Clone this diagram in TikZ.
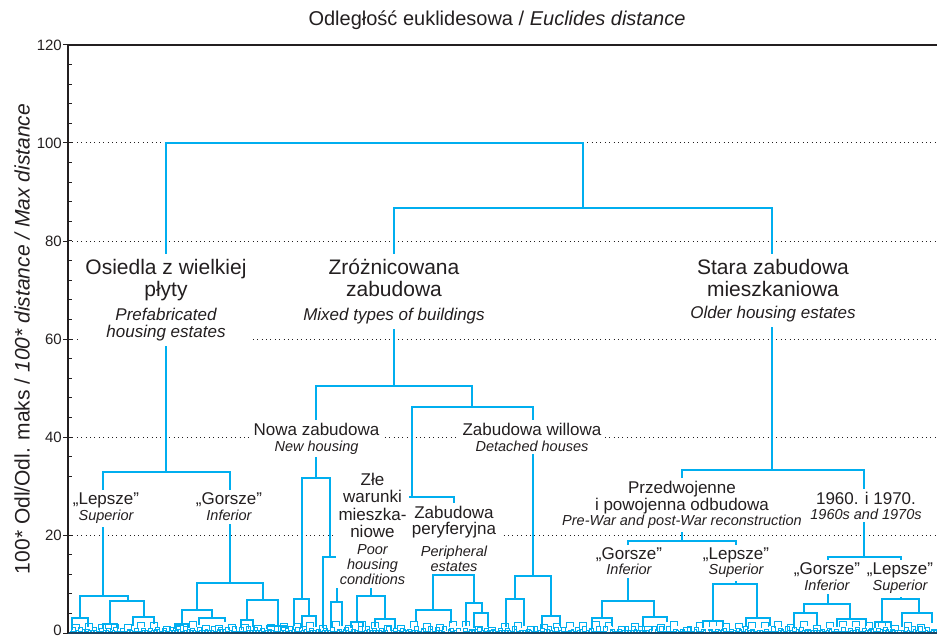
\documentclass[tikz,border=0pt]{standalone}
\usepackage{fontspec}
\setmainfont{Liberation Sans}
\usepackage{tikz}
\usetikzlibrary{calc}
\definecolor{ink}{RGB}{35,31,32}
\definecolor{dendro}{RGB}{0,174,239}
\definecolor{floor}{RGB}{24,70,102}
\newcommand{\clu}[5]{\draw[branch] (#1,#4) -- (#1,#3) -- (#2,#3) -- (#2,#5);}
\newcommand{\eng}[1]{{\fontsize{17}{17}\selectfont\itshape #1}}
\newcommand{\engs}[1]{{\fontsize{14.5}{15}\selectfont\itshape #1}}
\newcommand{\vy}[1]{633-4.9*#1}
\tikzset{
  branch/.style={draw=dendro,line width=1.3pt},
  leaf/.style={draw=dendro,line width=0.8pt},
  axis/.style={draw=ink,line width=1.2pt},
  gridline/.style={draw=ink,line width=1pt,dash pattern=on 1pt off 3.4pt},
  group/.style={align=center,fill=white,text=ink,anchor=north,
    inner xsep=5pt,inner ysep=5pt,font=\fontsize{21}{22}\selectfont},
  subgroup/.style={group,inner xsep=4pt,inner ysep=3pt,font=\fontsize{17}{17.5}\selectfont},
  ticklabel/.style={anchor=east,text=ink,inner sep=0pt,font=\fontsize{15}{15}\selectfont}
}

\begin{document}
\begin{tikzpicture}[x=1pt,y=-1pt]
  \useasboundingbox (0,0) rectangle (937,639);

  \foreach \v in {20,40,...,100}
    \draw[gridline] (68,{\vy{\v}}) -- (937,{\vy{\v}});

  % leaves
  \pgfmathsetseed{11}
  \foreach \i in {0,...,288}{
    \pgfmathsetmacro{\lx}{70+3*\i}
    \pgfmathsetmacro{\lh}{629.5+2.5*rnd}
    \draw[leaf] (\lx,633) -- (\lx,\lh) -- ({\lx+2},\lh) -- ({\lx+2},633);
  }
  \foreach \i in {0,...,123}{
    \pgfmathsetmacro{\lx}{71+7*\i}
    \pgfmathsetmacro{\lh}{626+4*rnd}
    \draw[leaf] (\lx,631) -- (\lx,\lh) -- ({\lx+4},\lh) -- ({\lx+4},631);
  }
  \foreach \i in {0,...,65}{
    \pgfmathsetmacro{\lx}{72.5+13*\i}
    \pgfmathsetmacro{\lh}{621+6*rnd}
    \draw[leaf] (\lx,{\lh+6}) -- (\lx,\lh) -- ({\lx+7},\lh) -- ({\lx+7},{\lh+5});
  }

  \clu{166}{583}{143}{472}{208}
  \clu{394}{772}{208}{386}{470}

  \clu{103}{230}{472}{596}{583}
  \clu{80}{128}{596}{618}{601}
  \clu{72}{88}{618}{628}{627}
  \clu{110}{144}{601}{624}{617}
  \clu{103}{117}{624}{629}{628}
  \clu{133}{154}{617}{626}{624}
  \clu{197}{263}{583}{610}{600}
  \clu{182}{212}{610}{624}{618}
  \clu{175}{188}{624}{629}{628}
  \clu{199}{225}{618}{625}{622}
  \clu{247}{278}{600}{620}{626}
  \clu{241}{253}{620}{628}{627}
  \clu{267}{287}{626}{629}{629}

  \clu{316}{472}{386}{478}{407}
  \clu{302}{330}{478}{599}{557}
  \clu{294}{309}{599}{626}{616}
  \clu{302}{316}{616}{628}{627}
  \clu{323}{337}{557}{628}{602}
  \clu{331}{342}{602}{628}{626}
  \clu{412}{533}{407}{497}{576}
  \clu{371}{454}{497}{596}{575}
  \clu{357}{385}{596}{622}{619}
  \clu{351}{363}{622}{628}{627}
  \clu{375}{395}{619}{627}{628}
  \clu{433}{474}{575}{610}{603}
  \clu{416}{451}{610}{622}{623}
  \clu{466}{482}{603}{626}{613}
  \clu{474}{488}{613}{628}{627}
  \clu{515}{551}{576}{599}{616}
  \clu{506}{524}{599}{627}{626}
  \clu{542}{560}{616}{628}{626}

  \clu{682}{864}{470}{541}{557}
  \clu{628}{736}{541}{601}{584}
  \clu{602}{654}{601}{618}{617}
  \clu{592}{612}{618}{628}{626}
  \clu{643}{667}{617}{627}{622}
  \clu{713}{757}{584}{621}{618}
  \clu{703}{723}{621}{628}{627}
  \clu{746}{770}{618}{627}{626}
  \clu{828}{901}{557}{604}{599}
  \clu{804}{850}{604}{613}{619}
  \clu{794}{817}{613}{628}{626}
  \clu{837}{866}{619}{627}{626}
  \clu{882}{919}{599}{622}{613}
  \clu{875}{891}{622}{628}{628}
  \clu{902}{932}{613}{627}{623}

  \draw[floor,line width=2.2pt] (68,633) -- (937,633);
  \draw[axis] (937,45) -- (68,45) -- (68,633);
  \foreach \k in {1,...,29}
    \draw[axis,line width=1pt] (68,{633-19.6*\k}) -- (72,{633-19.6*\k});
  \foreach \v in {0,20,...,120}{
    \draw[axis,line width=1pt] (63,{\vy{\v}}) -- (68,{\vy{\v}});
  }
  \foreach \v in {20,40,...,120}
    \node [ticklabel] (t\v) at (62,{\vy{\v}}) {\v};
  \node [ticklabel] (t0) at (62,630.5) {0};

  \node [text=ink,font=\fontsize{20}{20}\selectfont,anchor=base] (title) at (497,26)
    {Odległość euklidesowa / \textit{Euclides distance}};
  \node [text=ink,font=\fontsize{21}{21}\selectfont,rotate=90] (ylabel) at (22,339)
    {100* Odl/Odl. maks / \textit{100* distance / Max distance}};

  \node [group] (osiedla) at (166,253.7) {Osiedla z wielkiej\\płyty\\[2pt]\eng{Prefabricated}\\[-5pt]\eng{housing estates}};
  \node [group] (mixed) at (394,253.7) {Zróżnicowana\\zabudowa\\[2pt]\eng{Mixed types of buildings}};
  \node [group] (stara) at (773,253.7) {Stara zabudowa\\mieszkaniowa\\\eng{Older housing estates}};

  \node [subgroup] (nowa) at (316.5,419.6) {Nowa zabudowa\\[-1.5pt]\engs{New housing}};
  \node [subgroup] (willowa) at (532,419.6) {Zabudowa willowa\\[-1.5pt]\engs{Detached houses}};
  \node [subgroup] (lepsze1) at (106,489.6) {„Lepsze”\\[-1.5pt]\engs{Superior}};
  \node [subgroup] (gorsze1) at (229,489.6) {„Gorsze”\\[-1.5pt]\engs{Inferior}};
  \node [subgroup,inner xsep=2.5pt] (zle) at (372.5,469.6) {Złe\\warunki\\mieszka-\\niowe\\[-0.5pt]\engs{Poor}\\[-2.5pt]\engs{housing}\\[-2.5pt]\engs{conditions}};
  \node [subgroup] (peryf) at (454,502.6) {Zabudowa\\[-1.5pt]peryferyjna\\[4.5pt]\engs{Peripheral}\\[-2.5pt]\engs{estates}};
  \node [subgroup] (przedw) at (682,477.6) {Przedwojenne\\i powojenna odbudowa\\[-2.5pt]\engs{Pre-War and post-War reconstruction}};
  \node [subgroup] (lata) at (866,488.6) {1960. i 1970.\\[-2.5pt]\engs{1960s and 1970s}};
  \node [subgroup] (gorsze2) at (629,544.6) {„Gorsze”\\[-2.5pt]\engs{Inferior}};
  \node [subgroup] (lepsze2) at (736,544.6) {„Lepsze”\\[-2.5pt]\engs{Superior}};
  \node [subgroup] (gorsze3) at (827,559.6) {„Gorsze”\\[-1.5pt]\engs{Inferior}};
  \node [subgroup] (lepsze3) at (900,559.6) {„Lepsze”\\[-1.5pt]\engs{Superior}};
\end{tikzpicture}
\end{document}
